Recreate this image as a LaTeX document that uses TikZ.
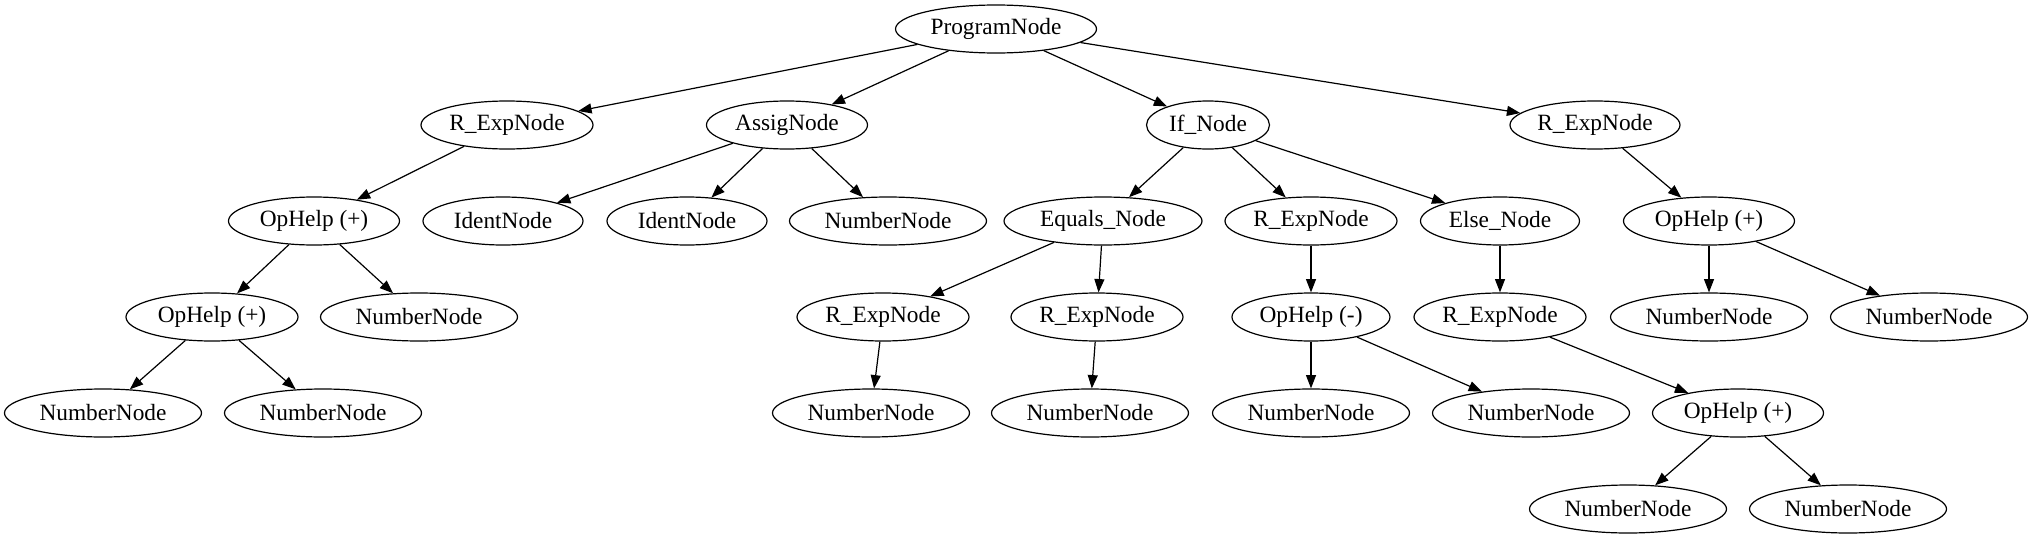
\documentclass[tikz,border=0pt]{standalone}
\usepackage{fontspec}
\setmainfont{Liberation Serif}
\usetikzlibrary{shapes.geometric,arrows.meta}
\begin{document}
\begin{tikzpicture}[x=0.75pt,y=-0.75pt,
  nd/.style={ellipse,draw,line width=0.9pt,inner sep=0pt,minimum height=36pt,minimum width=#1*0.75pt,font=\fontsize{17.5}{20}\selectfont},
  edge/.style={line width=0.9pt,-{Triangle[length=10pt,width=7.5pt]}}]
\useasboundingbox (0,0) rectangle (2032,539);
% row 1
\node[nd=201] (P) at (996,29) {ProgramNode};
% row 2
\node[nd=172] (r1) at (507,125) {R\_ExpNode};
\node[nd=161] (as) at (787,125) {AssigNode};
\node[nd=123] (if) at (1208,125) {If\_Node};
\node[nd=170] (r2) at (1595,125) {R\_ExpNode};
% row 3
\node[nd=171] (op1) at (314,221) {OpHelp (+)};
\node[nd=160] (id1) at (503,221) {IdentNode};
\node[nd=160] (id2) at (687,221) {IdentNode};
\node[nd=197] (nas) at (888,221) {NumberNode};
\node[nd=198] (eq) at (1103,221) {Equals\_Node};
\node[nd=172] (rif) at (1311,221) {R\_ExpNode};
\node[nd=159] (el) at (1500,221) {Else\_Node};
\node[nd=171] (op2) at (1709,221) {OpHelp (+)};
% row 4
\node[nd=172] (op1a) at (212,317) {OpHelp (+)};
\node[nd=197] (n1) at (419,317) {NumberNode};
\node[nd=172] (rq1) at (883,317) {R\_ExpNode};
\node[nd=172] (rq2) at (1097,317) {R\_ExpNode};
\node[nd=158] (opm) at (1311,317) {OpHelp (-)};
\node[nd=172] (rel) at (1500,317) {R\_ExpNode};
\node[nd=197] (n2a) at (1709,317) {NumberNode};
\node[nd=197] (n2b) at (1929,317) {NumberNode};
% row 5
\node[nd=197] (n3a) at (103,413) {NumberNode};
\node[nd=197] (n3b) at (323,413) {NumberNode};
\node[nd=197] (n4) at (871,413) {NumberNode};
\node[nd=197] (n5) at (1090,413) {NumberNode};
\node[nd=197] (n6a) at (1311,413) {NumberNode};
\node[nd=197] (n6b) at (1531,413) {NumberNode};
\node[nd=171] (ope) at (1738,413) {OpHelp (+)};
% row 6
\node[nd=197] (n7a) at (1628,509) {NumberNode};
\node[nd=197] (n7b) at (1848,509) {NumberNode};
% edges
\foreach \a/\b in {P/r1,P/as,P/if,P/r2,r1/op1,as/id1,as/id2,as/nas,if/eq,if/rif,if/el,r2/op2,
  op1/op1a,op1/n1,eq/rq1,eq/rq2,rif/opm,el/rel,op2/n2a,op2/n2b,
  op1a/n3a,op1a/n3b,rq1/n4,rq2/n5,opm/n6a,opm/n6b,rel/ope,ope/n7a,ope/n7b}
  \draw[edge] (\a) -- (\b);
\end{tikzpicture}
\end{document}
